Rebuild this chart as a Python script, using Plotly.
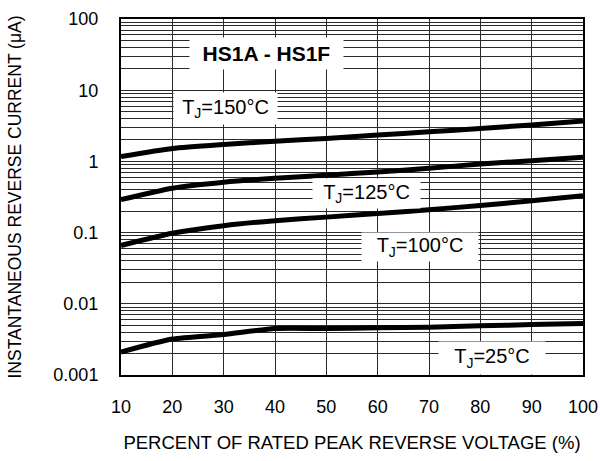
import plotly.graph_objects as go

# Percent of rated peak reverse voltage (%)
voltage_pct = [10, 20, 30, 40, 50, 60, 70, 80, 90, 100]

# Instantaneous reverse current (uA) per junction temperature
ir_150 = [1.17, 1.52, 1.73, 1.92, 2.1, 2.35, 2.6, 2.9, 3.25, 3.7]
ir_125 = [0.29, 0.42, 0.51, 0.58, 0.64, 0.71, 0.8, 0.92, 1.02, 1.14]
ir_100 = [0.066, 0.098, 0.125, 0.147, 0.165, 0.185, 0.21, 0.24, 0.28, 0.33]
ir_25 = [0.0021, 0.0032, 0.0037, 0.0045, 0.0045, 0.0046, 0.0047, 0.0049, 0.0051, 0.0053]

x_ticks = [10, 20, 30, 40, 50, 60, 70, 80, 90, 100]
y_decades = [0.001, 0.01, 0.1, 1, 10, 100]
y_decade_labels = ["0.001", "0.01", "0.1", "1", "10", "100"]

FONT = "Liberation Sans, Arial, sans-serif"

fig = go.Figure()
for series in (ir_150, ir_125, ir_100, ir_25):
    fig.add_trace(go.Scatter(
        x=voltage_pct, y=series, mode="lines",
        line=dict(color="black", width=5, shape="spline", smoothing=0.6),
        showlegend=False, hoverinfo="skip",
    ))

grid_col = "#2a2a2a"
fig.update_xaxes(
    range=[10, 100], tickvals=x_ticks, ticktext=[str(v) for v in x_ticks],
    showgrid=True, gridcolor=grid_col, gridwidth=1, zeroline=False,
    showline=True, linecolor="black", linewidth=2, mirror=True,
    ticks="", ticklabelstandoff=14, automargin=False,
    tickfont=dict(family=FONT, size=18, color="black"),
    title=dict(text="PERCENT OF RATED PEAK REVERSE VOLTAGE (%)",
               font=dict(family=FONT, size=18.5, color="black"), standoff=20),
)
fig.update_yaxes(
    type="log", range=[-3, 2], tickvals=y_decades, ticktext=y_decade_labels,
    showgrid=True, gridcolor=grid_col, gridwidth=1, zeroline=False,
    minor=dict(dtick="D1", showgrid=True, gridcolor=grid_col, gridwidth=1, ticks=""),
    showline=True, linecolor="black", linewidth=2, mirror=True,
    ticks="", ticklabelstandoff=17, automargin=False,
    tickfont=dict(family=FONT, size=18, color="black"),
    title=dict(text="INSTANTANEOUS REVERSE CURRENT (μA)",
               font=dict(family=FONT, size=17.5, color="black"), standoff=27),
)

# Text boxes on white backgrounds covering the grid
labels = [
    ("<b>HS1A - HS1F</b>", 38.25, 1.522, 153, 31, 21),
    ("T<sub>J</sub>=150°C", 30.26, 0.75, 103, 31, 20),
    ("T<sub>J</sub>=125°C", 57.9, -0.444, 107, 29, 20),
    ("T<sub>J</sub>=100°C", 68.25, -1.202, 116, 28, 20),
    ("T<sub>J</sub>=25°C", 82.3, -2.761, 106, 32, 20),
]
for text, ax_x, ax_y, w, h, fs in labels:
    fig.add_annotation(
        x=ax_x, y=ax_y, xref="x", yref="y", text=text, showarrow=False,
        width=w, height=h, bgcolor="white", borderpad=0,
        font=dict(family=FONT, size=fs, color="black"),
        xanchor="center", yanchor="middle", align="center", valign="middle",
    )

fig.update_layout(
    width=600, height=461,
    margin=dict(l=121, r=17, t=19, b=86),
    paper_bgcolor="white", plot_bgcolor="white",
    font=dict(family=FONT, color="black"),
)

fig.write_html("out.html")
